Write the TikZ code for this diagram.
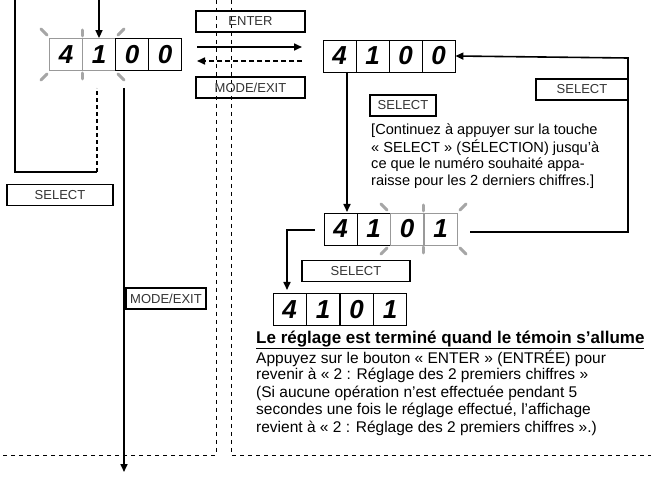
\documentclass[tikz,border=0pt]{standalone}
\usepackage{fontspec}
\setmainfont{Liberation Sans}
\usetikzlibrary{arrows.meta}
\begin{document}
\begin{tikzpicture}[x=1pt,y=-1pt,
  lbl/.style={draw,line width=1.2pt,minimum height=21pt,inner sep=0pt,font=\fontsize{13}{15}\selectfont,text=black!80},
  cell/.style={draw,line width=0.8pt,minimum width=33pt,minimum height=32pt,inner sep=0pt,font=\fontsize{26}{26}\selectfont\itshape\bfseries},
  gcell/.style={cell,draw=black!40},
  ray/.style={line width=3pt,black!35,line cap=round},
  conn/.style={line width=1.6pt},
  arr/.style={conn,-{Triangle[length=8pt,width=7pt]}},
  dsh/.style={line width=0.7pt,dash pattern=on 4pt off 4pt},
  txt/.style={font=\fontsize{15.5}{17}\selectfont,anchor=west,inner sep=0pt},
  btxt/.style={txt,font=\fontsize{14.6}{17}\selectfont}]
\useasboundingbox (0,0) rectangle (651,478);
\newcommand\blinkpair[4]{% x1 x2 y1 y2
  \draw[ray] ({#1-3},{#3-3}) -- ({#1-9},{#3-9});
  \draw[ray] ({#2+3},{#3-3}) -- ({#2+9},{#3-9});
  \draw[ray] ({#1-3},{#4+3}) -- ({#1-9},{#4+9});
  \draw[ray] ({#2+3},{#4+3}) -- ({#2+9},{#4+9});
  \draw[ray] ({(#1+#2)/2},{#3-2}) -- ({(#1+#2)/2},{#3-8});
  \draw[ray] ({(#1+#2)/2},{#4+2}) -- ({(#1+#2)/2},{#4+8});}
% dashed frame lines
\draw[dsh] (216,0) -- (216,455) -- (0,455);
\draw[dsh] (231,0) -- (231,455) -- (651,455);
% display 1
\blinkpair{50}{115}{38}{71}
\node[gcell] (a1) at (66,54.5) {4};
\node[gcell] (a2) at (99,54.5) {1};
\node[cell] (a3) at (132,54.5) {0};
\node[cell] (a4) at (165,54.5) {0};
\draw[arr] (99,0) -- (a2.north);
% left loop
\coordinate (lc1) at (97,172);
\draw[conn] (15,0) -- (15,172) -- (lc1);
\draw[conn,dash pattern=on 4pt off 3pt] (lc1) -- (97,88);
\node[lbl,minimum width=106pt] (sel1) at (60,195) {SELECT};
\coordinate (bot) at (124,472);
\draw[arr] (124,88) -- (bot);
\node[lbl,minimum width=80pt] (me1) at (166,298.5) {MODE/EXIT};
% enter/mode
\node[lbl,minimum width=109pt] (ent) at (250.5,21.5) {ENTER};
\node[lbl,minimum width=109pt] (me2) at (250.5,87.5) {MODE/EXIT};
% display 2
\node[cell] (b1) at (339.5,56) {4};
\node[cell] (b2) at (372.5,56) {1};
\node[cell] (b3) at (405.5,56) {0};
\node[cell] (b4) at (438.5,56) {0};
\draw[arr] (197,47) -- (302,47);
\draw[conn,dash pattern=on 5pt off 3pt,-{Triangle[length=8pt,width=7pt]}] (302,61) -- (197,61);
\node[lbl,minimum width=66pt] (sel2) at (403,105.5) {SELECT};
\node[lbl,minimum width=92pt] (sel3) at (582,89.5) {SELECT};
\node[btxt] at (371,131) {[Continuez à appuyer sur la touche};
\node[btxt] at (371,148) {« SELECT » (SÉLECTION) jusqu'à};
\node[btxt] at (371,165) {ce que le numéro souhaité appa-};
\node[btxt] at (371,182) {raisse pour les 2 derniers chiffres.]};
% display 3
\blinkpair{390}{457}{213}{245}
\node[cell] (c1) at (340.5,229) {4};
\node[cell] (c2) at (373.5,229) {1};
\node[gcell] (c3) at (407,229) {0};
\node[gcell] (c4) at (440.5,229) {1};
\draw[arr] (347,72) -- (347,212);
\draw[arr] (470,232) -- (628,232) -- (628,58) -- (b4.east);
\draw[arr] (315,230) -- (287,230) -- (287,290);
\node[lbl,minimum width=108pt] (sel4) at (356,271) {SELECT};
% display 4
\node[cell] (d1) at (289.5,309.5) {4};
\node[cell] (d2) at (323,309.5) {1};
\node[cell] (d3) at (356.5,309.5) {0};
\node[cell] (d4) at (390,309.5) {1};
\node[txt,font=\fontsize{17}{17}\selectfont\bfseries] at (256,340) {\underline{Le réglage est terminé quand le témoin s'allume}};
\node[txt] at (256,358) {Appuyez sur le bouton « ENTER » (ENTRÉE) pour};
\node[txt] at (256,375.5) {revenir à « 2 : Réglage des 2 premiers chiffres »};
\node[txt] at (256,393) {(Si aucune opération n'est effectuée pendant 5};
\node[txt] at (256,410.5) {secondes une fois le réglage effectué, l'affichage};
\node[txt] at (256,428) {revient à « 2 : Réglage des 2 premiers chiffres ».)};
\end{tikzpicture}
\end{document}
